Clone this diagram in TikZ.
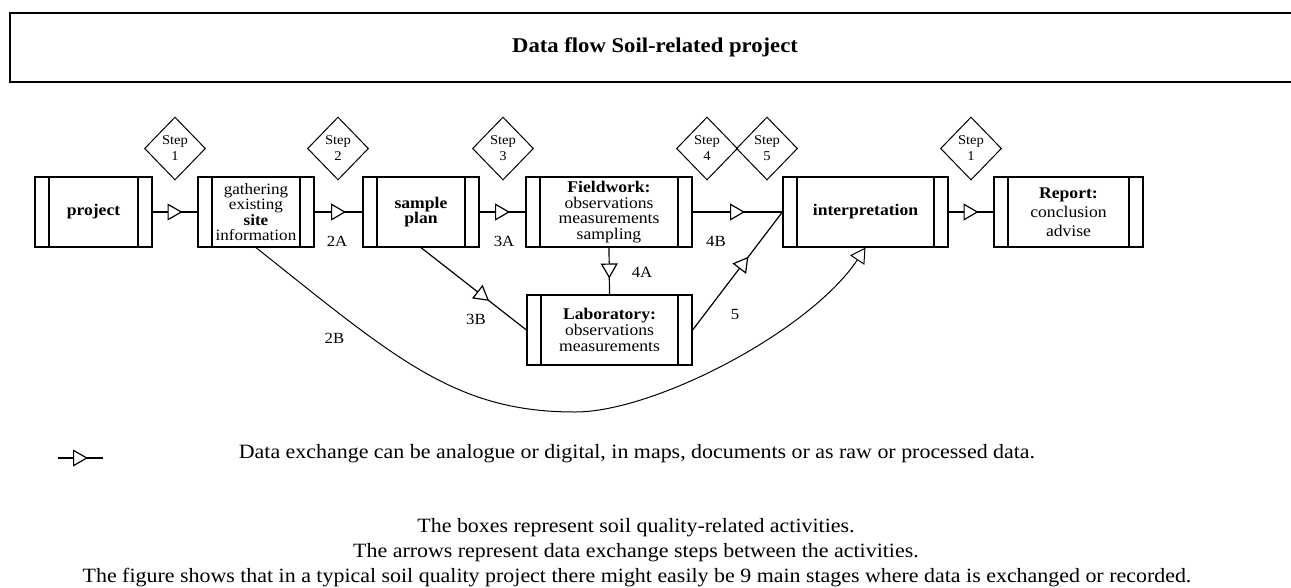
\documentclass[tikz,border=0pt]{standalone}
\usepackage{fontspec}
\setmainfont{Liberation Serif}[FakeStretch=1.08]
\usetikzlibrary{shapes.geometric,arrows.meta,decorations.markings}

\tikzset{
  activity/.style={draw, line width=1.2pt, minimum height=70pt, inner sep=0pt, align=center,
    font=\fontsize{16.3}{15.6}\selectfont,
    path picture={\draw[line width=1.2pt]
      ([xshift=14pt]path picture bounding box.north west) -- ([xshift=14pt]path picture bounding box.south west)
      ([xshift=-14pt]path picture bounding box.north east) -- ([xshift=-14pt]path picture bounding box.south east);}},
  stepbox/.style={draw, diamond, line width=1pt, minimum width=61pt, minimum height=63pt, inner sep=0pt,
    align=center, font=\fontsize{13.5}{16}\selectfont},
  flowlabel/.style={font=\fontsize{15.5}{15.5}\selectfont},
  flow/.style={line width=1.2pt, postaction={decorate},
    decoration={markings, mark=at position #1 with {\arrow[xshift=7.5pt]{Triangle[length=15pt,width=17pt,fill=white]}}}},
  flow/.default=0.5,
  note/.style={font=\fontsize{20.3}{20.3}\selectfont}
}

\begin{document}
\begin{tikzpicture}[x=1pt,y=1pt,yscale=-1,xscale=1]
\useasboundingbox (0,0) rectangle (1291,587);

% Title
\node[draw, line width=1.6pt, minimum width=1290pt, minimum height=69pt, font=\fontsize{21}{21}\selectfont\bfseries] (title) at (655,47.5) {Data flow Soil-related project};

% Activities
\node[activity, minimum width=117pt] (project) at (93.5,212) {\textbf{project}};
\node[activity, minimum width=116pt, font=\fontsize{15.8}{15.6}\selectfont] (gather) at (256,212) {gathering\\existing\\\textbf{site}\\information};
\node[activity, minimum width=116pt] (plan) at (421,212) {\textbf{sample}\\\textbf{plan}};
\node[activity, minimum width=166pt] (field) at (609,212) {\textbf{Fieldwork:}\\observations\\measurements\\sampling};
\node[activity, minimum width=165pt] (interp) at (865.5,212) {\textbf{interpretation}};
\node[activity, minimum width=149pt, font=\fontsize{16.3}{19}\selectfont] (report) at (1068.5,212) {\textbf{Report:}\\conclusion\\advise};
\node[activity, minimum width=165pt] (lab) at (609.5,330) {\textbf{Laboratory:}\\observations\\measurements};

% Steps
\node[stepbox] (step1) at (175,148.5) {Step\\1};
\node[stepbox] (step2) at (338,148.5) {Step\\2};
\node[stepbox] (step3) at (503,148.5) {Step\\3};
\node[stepbox] (step4) at (707,148.5) {Step\\4};
\node[stepbox] (step5) at (767,148.5) {Step\\5};
\node[stepbox] (step6) at (971,148.5) {Step\\1};

% Data exchange
\draw[flow] (project.east) -- (gather.west);
\draw[flow] (gather.east) -- (plan.west);
\draw[flow] (plan.east) -- (field.west);
\draw[flow] (field.east) -- (interp.west);
\draw[flow] (interp.east) -- (report.west);
\draw[flow] (field.south) -- (lab.north);
\draw[flow=0.59] (plan.south) -- (lab.west);
\draw[flow=0.57] (lab.east) -- (interp.west);
\draw[line width=1pt, -{Triangle[length=15pt,width=17pt,fill=white]}] (gather.south)
  .. controls (396,359) and (455,412) .. (575,412)
  .. controls (655,412) and (810,331) .. (interp.south);

% Labels
\node[flowlabel] (l2a) at (337,241) {2A};
\node[flowlabel] (l3a) at (504,241) {3A};
\node[flowlabel] (l4b) at (716,241) {4B};
\node[flowlabel] (l4a) at (642,272) {4A};
\node[flowlabel] (l3b) at (476,319) {3B};
\node[flowlabel] (l2b) at (334.5,338.5) {2B};
\node[flowlabel] (l5) at (735,314) {5};

% Legend
\coordinate (legA) at (58,458);
\coordinate (legB) at (103,458);
\draw[flow] (legA) -- (legB);
\node[note] (legtext) at (637,454) {Data exchange can be analogue or digital, in maps, documents or as raw or processed data.};
\node[note] (note1) at (636,528) {The boxes represent soil quality-related activities.};
\node[note] (note2) at (636,553) {The arrows represent data exchange steps between the activities.};
\node[note] (note3) at (637,578) {The figure shows that in a typical soil quality project there might easily be 9 main stages where data is exchanged or recorded.};

\end{tikzpicture}
\end{document}
